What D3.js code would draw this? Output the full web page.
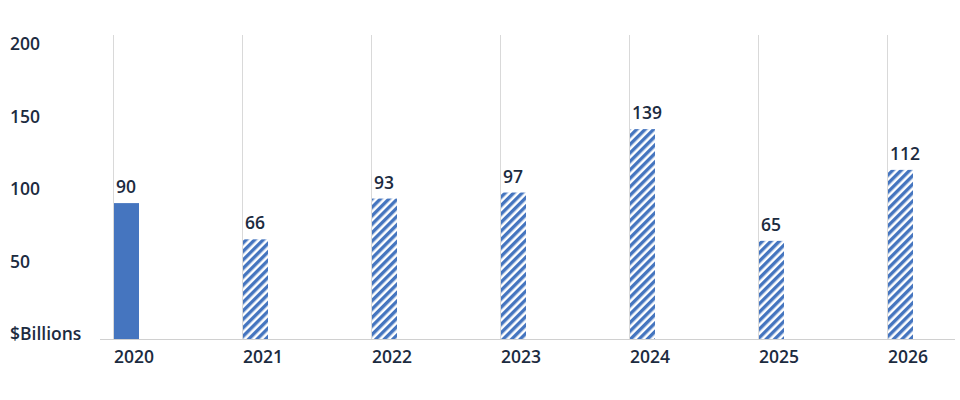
<!DOCTYPE html>
<html><head><meta charset="utf-8">
<script src="https://cdn.jsdelivr.net/npm/d3@7"></script>
<style>body{margin:0;background:#fff}svg{display:block}text{font-family:"Open Sans",sans-serif;font-weight:600;fill:#1c2b3f}</style>
</head><body><svg id="c" width="960" height="400"></svg>
<script>
const categories = ["2020","2021","2022","2023","2024","2025","2026"];
const values = [90,66,93,97,139,65,112];
const projected = [false,true,true,true,true,true,true];
const yTicks = [0,50,100,150,200];
const yTickLabels = ["$Billions","50","100","150","200"];

const svg = d3.select("#c");
const x = d3.scaleBand().domain(categories).range([113,1016]).paddingInner(0).paddingOuter(0);
const y = d3.scaleLinear().domain([0,200]).range([339,37]);
const yLab = d3.scaleLinear().domain([0,200]).range([334,44]);
const barW = 25;
const blue = "#4575bf";
const fs = 17.5;

const defs = svg.append("defs");
const pat = defs.append("pattern").attr("id","hatch").attr("patternUnits","userSpaceOnUse")
  .attr("width",6).attr("height",6).attr("patternTransform","rotate(45)");
pat.append("rect").attr("width",6).attr("height",6).attr("fill","#fff");
pat.append("rect").attr("width",3.4).attr("height",6).attr("fill",blue);

svg.append("g").selectAll("line").data(categories).join("line")
  .attr("x1",d=>x(d)+0.5).attr("x2",d=>x(d)+0.5).attr("y1",35).attr("y2",339)
  .attr("stroke","#d9d9d9").attr("stroke-width",1);

svg.append("line").attr("x1",100).attr("x2",955).attr("y1",339.5).attr("y2",339.5)
  .attr("stroke","#d0d0d0").attr("stroke-width",1);

svg.append("g").selectAll("rect").data(categories).join("rect")
  .attr("x",d=>x(d)+1).attr("width",barW)
  .attr("y",(d,i)=>y(values[i])).attr("height",(d,i)=>y(0)-y(values[i]))
  .attr("fill",(d,i)=>projected[i]?"url(#hatch)":blue);

svg.append("g").selectAll("text").data(categories).join("text")
  .attr("x",d=>x(d)+3).attr("y",(d,i)=>y(values[i])-10)
  .attr("font-size",fs).text((d,i)=>values[i]);

svg.append("g").selectAll("text").data(categories).join("text")
  .attr("x",d=>x(d)+21).attr("y",363).attr("text-anchor","middle")
  .attr("font-size",fs).text(d=>d);

svg.append("g").selectAll("text").data(yTicks).join("text")
  .attr("x",10).attr("y",d=>yLab(d))
  .attr("dy","0.35em").attr("font-size",fs).text((d,i)=>yTickLabels[i]);
</script></body></html>
